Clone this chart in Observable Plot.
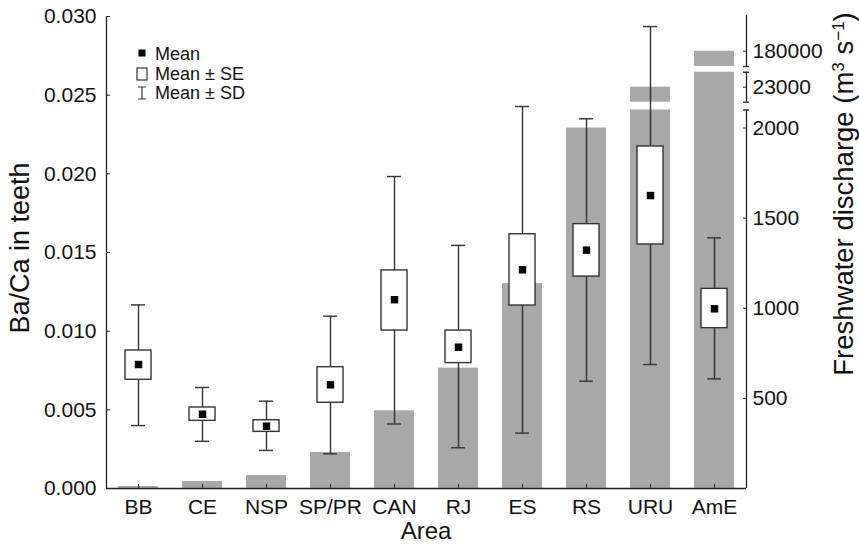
<!DOCTYPE html>
<html><head><meta charset="utf-8">
<script src="https://cdn.jsdelivr.net/npm/d3@7"></script>
<script src="https://cdn.jsdelivr.net/npm/@observablehq/plot@0.6"></script>
<style>
body{margin:0;background:#fff;}
#wrap{position:relative;width:859px;height:547px;overflow:hidden;}
#wrap svg{position:absolute;left:0;top:0;}
</style></head><body><div id="wrap"></div>
<script>
// ---- data ----
const areas = ["BB","CE","NSP","SP/PR","CAN","RJ","ES","RS","URU","AmE"];
const meanBaCa = [0.00788,0.00472,0.00396,0.00659,0.0120,0.00898,0.0139,0.01515,0.01862,0.01142];
const seLow  = [0.00691,0.0043,0.0036,0.00545,0.01004,0.00797,0.01163,0.01347,0.01551,0.01019];
const seHigh = [0.00877,0.00515,0.00434,0.00771,0.01386,0.01004,0.01616,0.0168,0.02174,0.01269];
const sdLow  = [0.0040,0.0030,0.00242,0.0022,0.0041,0.00259,0.00352,0.00682,0.00788,0.00697];
const sdHigh = [0.01167,0.00642,0.00555,0.01095,0.01983,0.01545,0.02428,0.0235,0.02936,0.01593];
const discharge = [11,39,72,200,431,668,1137,2000,23000,180000];
const bacaTicks = [0,0.005,0.010,0.015,0.020,0.025,0.030];
const dischargeTicks = [500,1000,1500,2000,23000,180000];
// broken right axis: segments of the discharge scale
const axisSegments = [{lo:0,hi:2100},{lo:20000,hi:26000},{lo:150000,hi:250000}];

// ---- layout ----
const W = 859, H = 547, mL = 106, mR = 113, mT = 16, mB = 59;
const bw = (W - mL - mR) / areas.length;
const FONT = "'Liberation Sans', Arial, Helvetica, sans-serif";
const INK = "#222";
const TICKFS = 21;

const rows = areas.map((a,i) => ({area:a, mean:meanBaCa[i], seLo:seLow[i], seHi:seHigh[i], sdLo:sdLow[i], sdHi:sdHigh[i], q:discharge[i]}));

// bar pieces for the broken axis
const pieces = [];
rows.forEach(r => {
  const k = axisSegments.findIndex(s => r.q >= s.lo && r.q <= s.hi);
  if (k <= 0) pieces.push({area:r.area, lo:0, hi:r.q});
  else {
    pieces.push({area:r.area, lo:0, hi:axisSegments[k-1].hi});
    pieces.push({area:r.area, lo:axisSegments[k].lo, hi:r.q});
  }
});
const capVals = axisSegments.flatMap((s,i) => i === axisSegments.length-1 ? [s.lo] : (i===0 ? [s.hi] : [s.lo, s.hi]));

const baseStyle = {background:"transparent", fontFamily:FONT, fontSize:TICKFS+"px", color:"#111", overflow:"visible"};
const xOpt = {type:"band", domain:areas, padding:0};

// ---- chart A: discharge bars + right axis ----
const segDom = axisSegments.flatMap(s => [s.lo, s.hi]);
const chartA = Plot.plot({
  width:W, height:H, marginLeft:mL, marginRight:mR, marginTop:mT, marginBottom:mB,
  style: baseStyle,
  x: {...xOpt, axis:null},
  y: {type:"linear", domain: segDom, range:[488,109.5,101.7,71.7,66,15]},
  marks: [
    Plot.barY(pieces, {x:"area", y1:"lo", y2:"hi", fill:"#a8a8a8", insetLeft:12, insetRight:12}),
    Plot.ruleX(axisSegments, {x:() => areas[areas.length-1], y1:"lo", y2:"hi", dx:bw/2, stroke:INK, strokeWidth:1.3}),
    Plot.tickY(capVals, {x:() => areas[areas.length-1], y:d=>d, dx:bw/2, insetLeft:bw/2-3, insetRight:bw/2-3, stroke:INK, strokeWidth:1.3}),
    Plot.axisY({anchor:"right", ticks:dischargeTicks, tickFormat:d=>String(d), tickSize:-4, tickPadding:10, label:null, fontSize:TICKFS, stroke:INK})
  ]
});

// ---- chart B: Ba/Ca boxes, left & bottom axes ----
const chartB = Plot.plot({
  width:W, height:H, marginLeft:mL, marginRight:mR, marginTop:mT, marginBottom:mB,
  style: baseStyle,
  x: xOpt,
  y: {domain:[0,0.030]},
  marks: [
    Plot.ruleX(rows, {x:"area", y1:"sdLo", y2:"sdHi", stroke:"#333", strokeWidth:1.4}),
    Plot.tickY(rows, {x:"area", y:"sdLo", insetLeft:25, insetRight:25, stroke:"#333", strokeWidth:1.4}),
    Plot.tickY(rows, {x:"area", y:"sdHi", insetLeft:25, insetRight:25, stroke:"#333", strokeWidth:1.4}),
    Plot.rectY(rows, {x:"area", y1:"seLo", y2:"seHi", fill:"white", stroke:"#333", strokeWidth:1.4, insetLeft:19, insetRight:19}),
    Plot.dot(rows, {x:"area", y:"mean", symbol:"square", r:4.2, fill:"black"}),
    Plot.ruleY([0], {stroke:INK, strokeWidth:1.3}),
    Plot.ruleX([areas[0]], {dx:-bw/2, stroke:INK, strokeWidth:1.3}),
    Plot.axisY({ticks:bacaTicks, tickFormat:d3.format(".3f"), tickSize:-4, tickPadding:14, label:null, fontSize:TICKFS, stroke:INK}),
    Plot.axisX({tickSize:-4, tickPadding:15, label:null, fontSize:TICKFS, stroke:INK})
  ]
});

// ---- titles & legend ----
const ns = "http://www.w3.org/2000/svg";
const over = document.createElementNS(ns, "svg");
over.setAttribute("width", W); over.setAttribute("height", H);
over.style.fontFamily = FONT;
over.innerHTML = `
  <text transform="translate(29,248) rotate(-90)" text-anchor="middle" font-size="27" fill="#111">Ba/Ca in teeth</text>
  <text x="426" y="539" text-anchor="middle" font-size="24" fill="#111">Area</text>
  <text transform="translate(853,194) rotate(-90)" text-anchor="middle" font-size="27.5" fill="#111">Freshwater discharge (m<tspan baseline-shift="super" font-size="17">3</tspan> s<tspan baseline-shift="super" font-size="17">−1</tspan>)</text>
  <rect x="138.5" y="49.5" width="7" height="7" fill="black"/>
  <text x="155" y="60" font-size="18" fill="#111">Mean</text>
  <rect x="137" y="68" width="10" height="12" fill="white" stroke="#333" stroke-width="1.2"/>
  <text x="155" y="80" font-size="18" fill="#111">Mean ± SE</text>
  <path d="M142,87V99M138,87H146M138,99H146" stroke="#333" stroke-width="1.2" fill="none"/>
  <text x="155" y="99" font-size="18" fill="#111">Mean ± SD</text>`;

const wrap = document.getElementById("wrap");
wrap.append(chartA, chartB, over);
</script></body></html>
